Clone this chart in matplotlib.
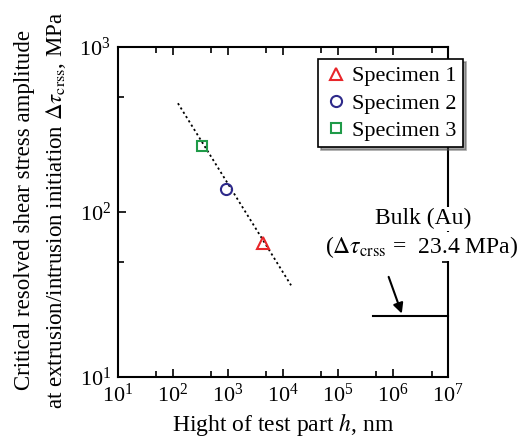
import matplotlib.pyplot as plt
from matplotlib.ticker import LogLocator, NullFormatter

plt.rcParams['font.family'] = ['Liberation Serif', 'DejaVu Serif']
plt.rcParams['mathtext.fontset'] = 'stix'

# data
spec_names = ['Specimen 1', 'Specimen 2', 'Specimen 3']
spec_h = [4300, 920, 335]
spec_tau = [65, 138, 251]
spec_markers = ['^', 'o', 's']
spec_colors = ['#e8262a', '#2e2a8a', '#1f9a48']

fit_h = [123, 14000]
fit_tau = [457, 36]

bulk_h = [4.4e5, 1e7]
bulk_tau = [23.4, 23.4]

fig = plt.figure(figsize=(5.29, 4.41), dpi=100)
ax = fig.add_axes([0.223, 0.145, 0.624, 0.748])

ax.plot(fit_h, fit_tau, color='black', linestyle=(0, (1.2, 1.6)), linewidth=1.3)
for name, h, t, m, c in zip(spec_names, spec_h, spec_tau, spec_markers, spec_colors):
    ax.plot([h], [t], linestyle='none', marker=m, markersize=8 if m != 's' else 7,
            markerfacecolor='none', markeredgecolor=c, markeredgewidth=1.5, label=name)

ax.plot(bulk_h, bulk_tau, color='black', linewidth=1.5, clip_on=False)

ax.set_xscale('log')
ax.set_yscale('log')
ax.set_xlim(1e1, 1e7)
ax.set_ylim(1e1, 1e3)
ax.xaxis.set_major_locator(LogLocator(base=10, numticks=10))
ax.xaxis.set_minor_locator(LogLocator(base=10, subs=[5], numticks=10))
ax.yaxis.set_minor_locator(LogLocator(base=10, subs=[5], numticks=10))
ax.xaxis.set_minor_formatter(NullFormatter())
ax.yaxis.set_minor_formatter(NullFormatter())
ax.tick_params(which='both', direction='in', top=True, right=True, labelsize=16, width=1.2)
ax.tick_params(which='major', length=6, pad=5)
ax.tick_params(which='minor', length=4)
for s in ax.spines.values():
    s.set_linewidth(1.5)

ax.set_xlabel('Hight of test part $h$, nm', fontsize=17, labelpad=3)
ax.set_ylabel('Critical resolved shear stress amplitude\n'
              r'at extrusion/intrusion initiation $\Delta\tau_{\rm crss}$, MPa',
              fontsize=16.5, linespacing=1.5)
ax.yaxis.set_label_coords(-0.15, 0.505)

leg = ax.legend(loc='upper right', bbox_to_anchor=(1.045, 0.964), fontsize=16,
                frameon=True, fancybox=False, shadow=True, handletextpad=0.2,
                borderpad=0.3, labelspacing=0.3, handlelength=1.0, borderaxespad=0)
leg.get_frame().set_edgecolor('black')
leg.get_frame().set_linewidth(1.2)

ax.text(0.925, 0.48, 'Bulk (Au)', transform=ax.transAxes, ha='center', va='center',
        fontsize=17, clip_on=False,
        bbox=dict(facecolor='white', edgecolor='none', pad=1))
ax.text(0.92, 0.395, r'($\Delta\tau_{\rm crss}$ =  23.4 MPa)', transform=ax.transAxes,
        ha='center', va='center', fontsize=17, clip_on=False,
        bbox=dict(facecolor='white', edgecolor='none', pad=1))
ax.annotate('', xy=(1.5e6, 23.4), xytext=(8e5, 42),
            arrowprops=dict(arrowstyle='-|>', color='black', lw=1.5, mutation_scale=15))

fig.savefig('out.png', dpi=100, facecolor='white')
